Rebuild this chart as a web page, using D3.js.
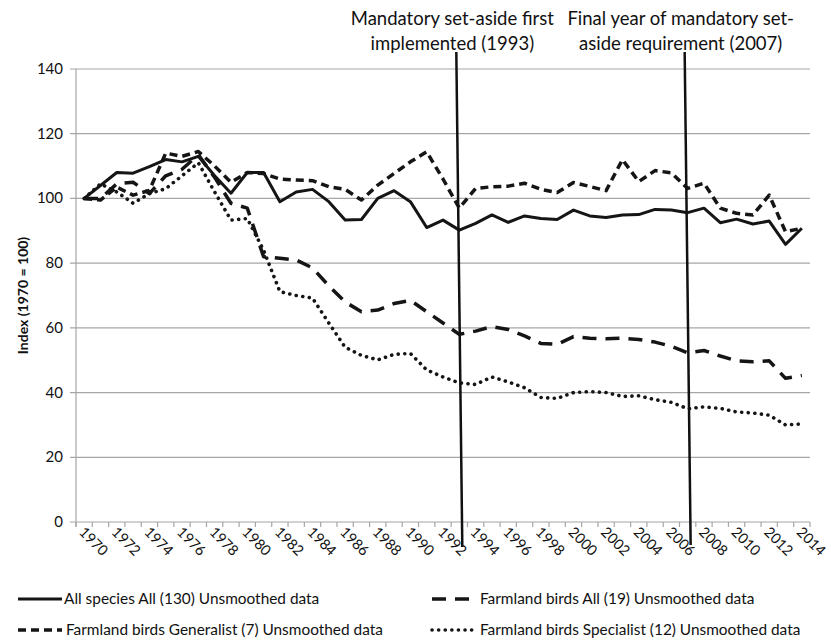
<!DOCTYPE html>
<html>
<head>
<meta charset="utf-8">
<script src="https://cdn.jsdelivr.net/npm/d3@7"></script>
<style>
  body { margin: 0; background: #fff; }
  text { font-family: Lato, "Open Sans", sans-serif; fill: #111; }
</style>
</head>
<body>
<div id="chart"></div>
<script>
// annees
const years = d3.range(1970, 2015);

// indices
const allSpecies = [100, 104, 108, 107.8, 109.8, 112, 111.3, 113, 107, 101.6, 108, 108, 99, 102, 102.8, 99, 93.3, 93.5, 100, 102.4, 99, 91, 93.3, 90.2, 92.3, 94.9, 92.6, 94.6, 93.8, 93.5, 96.4, 94.6, 94.1, 94.9, 95, 96.6, 96.4, 95.6, 97, 92.5, 93.6, 92.1, 93, 85.8, 90.8];
const farmlandAll = [100, 100, 104.5, 105, 101.5, 107, 109, 113.5, 106.5, 98.5, 97, 82, 81.5, 81, 78.5, 73, 68, 65, 65.5, 67.5, 68.5, 65, 61.5, 58, 59, 60.4, 59.5, 57.5, 55.2, 54.9, 57.3, 56.8, 56.6, 56.8, 56.4, 55.6, 54.3, 52.3, 53, 51.3, 49.8, 49.5, 49.8, 44.4, 45.3];
const generalist = [100, 99.5, 103.5, 101, 102.5, 114, 113, 114.5, 110, 105, 108, 107.7, 106, 105.7, 105.5, 103.6, 102.8, 99.5, 104.1, 107.7, 111.3, 114.4, 106, 97, 103.1, 103.6, 103.8, 104.7, 102.8, 101.8, 104.9, 103.7, 102.4, 112, 105.2, 108.6, 107.9, 103.1, 104.7, 97, 95.4, 94.9, 101, 89.7, 90.8];
const specialist = [100, 104.5, 102, 98.5, 101.5, 103, 107, 111, 102, 93.3, 93.8, 84, 71.2, 70, 69.2, 61.5, 54, 51.5, 50.1, 51.8, 52.1, 47, 44.8, 43, 42.5, 44.8, 43.3, 41.5, 38.5, 38.2, 40, 40.3, 40, 38.8, 39, 37.8, 37, 35, 35.6, 35.1, 34, 33.7, 33, 30, 30.3];

const yTicks = [0, 20, 40, 60, 80, 100, 120, 140];

// annotations (annee, deux lignes de texte)
const eventYears = [1993, 2007];
const eventLabels = [
  ["Mandatory set-aside first", "implemented (1993)"],
  ["Final year of mandatory set-", "aside requirement (2007)"]
];

const seriesNames = [
  "All species All (130) Unsmoothed data",
  "Farmland birds All (19) Unsmoothed data",
  "Farmland birds Generalist (7) Unsmoothed data",
  "Farmland birds Specialist (12) Unsmoothed data"
];

const series = [
  { name: seriesNames[0], values: allSpecies, dash: null, width: 3, cap: "butt" },
  { name: seriesNames[1], values: farmlandAll, dash: "14,9", width: 3.5, cap: "butt" },
  { name: seriesNames[2], values: generalist, dash: "8,5", width: 3.5, cap: "butt" },
  { name: seriesNames[3], values: specialist, dash: "0.1,6.5", width: 3.6, cap: "round" }
];

const width = 831, height = 640;
const margin = { left: 76, right: 21, top: 69, bottom: 118 };

const svg = d3.select("#chart")
  .append("svg")
  .attr("width", width)
  .attr("height", height);

const x = d3.scaleBand()
  .domain(years)
  .range([margin.left, width - margin.right]);

const y = d3.scaleLinear()
  .domain([0, 140])
  .range([height - margin.bottom, margin.top]);

const xc = d => x(d) + x.bandwidth() / 2;

// grille horizontale
svg.append("g")
  .selectAll("line")
  .data(yTicks)
  .enter()
  .append("line")
  .attr("x1", margin.left - 6)
  .attr("x2", width - margin.right)
  .attr("y1", d => y(d))
  .attr("y2", d => y(d))
  .attr("stroke", "#a6a6a6")
  .attr("stroke-width", 1.2);

// axe y
svg.append("line")
  .attr("x1", margin.left).attr("x2", margin.left)
  .attr("y1", y(140)).attr("y2", y(0) + 5)
  .attr("stroke", "#a6a6a6")
  .attr("stroke-width", 1.2);

svg.append("g")
  .selectAll("text")
  .data(yTicks)
  .enter()
  .append("text")
  .attr("x", margin.left - 13)
  .attr("y", d => y(d) + 5)
  .attr("text-anchor", "end")
  .style("font-size", "15px")
  .text(d => d);

svg.append("text")
  .attr("transform", `translate(28,${(y(0) + y(140)) / 2}) rotate(-90)`)
  .attr("text-anchor", "middle")
  .style("font-size", "14px")
  .style("font-weight", "bold")
  .text("Index (1970 = 100)");

// ticks x (limites des categories)
svg.append("g")
  .selectAll("line")
  .data(years.concat([2015]))
  .enter()
  .append("line")
  .attr("x1", d => d === 2015 ? width - margin.right : x(d))
  .attr("x2", d => d === 2015 ? width - margin.right : x(d))
  .attr("y1", y(0))
  .attr("y2", y(0) + 5)
  .attr("stroke", "#a6a6a6")
  .attr("stroke-width", 1.2);

svg.append("g")
  .selectAll("text")
  .data(years.filter(d => d % 2 === 0))
  .enter()
  .append("text")
  .attr("transform", d => `translate(${xc(d) - 6},${y(0) + 11}) rotate(45)`)
  .style("font-size", "14.5px")
  .text(d => d);

// courbes
const line = d3.line()
  .x((d, i) => xc(years[i]))
  .y(d => y(d));

svg.append("g")
  .selectAll("path")
  .data(series)
  .enter()
  .append("path")
  .attr("d", d => line(d.values))
  .attr("fill", "none")
  .attr("stroke", "#151515")
  .attr("stroke-width", d => d.width)
  .attr("stroke-dasharray", d => d.dash)
  .attr("stroke-linecap", d => d.cap)
  .attr("stroke-linejoin", "round");

// lignes verticales des evenements
eventYears.forEach((yr, i) => {
  const cx = xc(yr);
  svg.append("line")
    .attr("x1", cx - 3).attr("y1", 52)
    .attr("x2", cx + 3).attr("y2", 547 - i * 2)
    .attr("stroke", "#111")
    .attr("stroke-width", 2.5);
  eventLabels[i].forEach((t, j) => {
    svg.append("text")
      .attr("x", cx - 7)
      .attr("y", 25 + j * 25)
      .attr("text-anchor", "middle")
      .style("font-size", "18.5px")
      .text(t);
  });
});

// legende
const legendPos = [[18, 599], [432, 599], [18, 630], [432, 630]];
const legend = svg.append("g")
  .selectAll("g")
  .data(series)
  .enter()
  .append("g")
  .attr("transform", (d, i) => `translate(${legendPos[i][0]},${legendPos[i][1]})`);

legend.append("line")
  .attr("x1", 0).attr("x2", 44)
  .attr("y1", 0).attr("y2", 0)
  .attr("stroke", "#151515")
  .attr("stroke-width", d => d.width)
  .attr("stroke-dasharray", d => d.dash)
  .attr("stroke-linecap", d => d.cap);

legend.append("text")
  .attr("x", (d, i) => i === 0 ? 46 : 48)
  .attr("y", 5)
  .style("font-size", "15.4px")
  .text(d => d.name);
</script>
</body>
</html>
